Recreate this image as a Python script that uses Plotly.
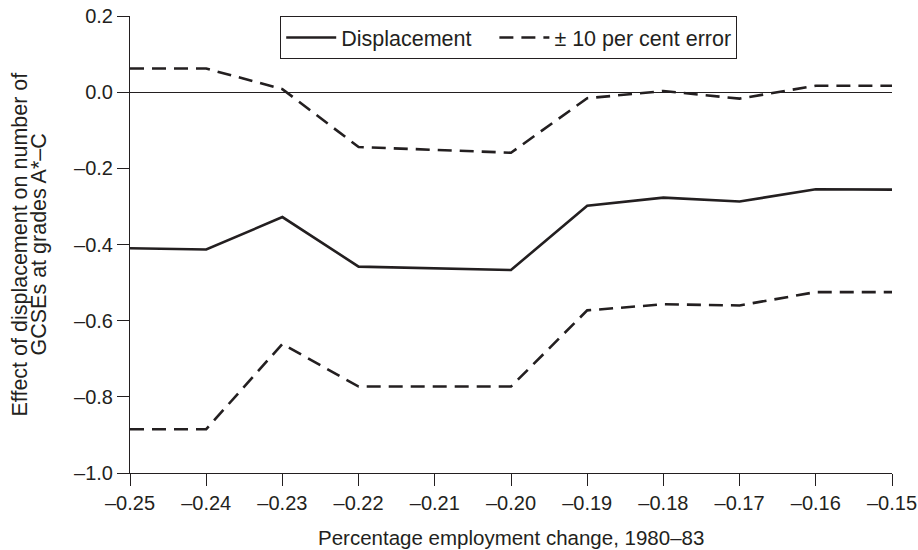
import plotly.graph_objects as go

x_vals = [-0.25, -0.24, -0.23, -0.22, -0.20, -0.19, -0.18, -0.17, -0.16, -0.15]
displacement = [-0.410, -0.413, -0.328, -0.458, -0.467, -0.298, -0.277, -0.287, -0.255, -0.256]
upper_err = [0.062, 0.062, 0.008, -0.144, -0.159, -0.016, 0.003, -0.017, 0.017, 0.017]
lower_err = [-0.885, -0.885, -0.661, -0.773, -0.773, -0.573, -0.557, -0.560, -0.525, -0.525]

x_ticks = [-0.25, -0.24, -0.23, -0.22, -0.21, -0.20, -0.19, -0.18, -0.17, -0.16, -0.15]
x_ticklabels = ["\u20130.25", "\u20130.24", "\u20130.23", "\u20130.22", "\u20130.21", "\u20130.20",
                "\u20130.19", "\u20130.18", "\u20130.17", "\u20130.16", "\u20130.15"]
y_ticks = [0.2, 0.0, -0.2, -0.4, -0.6, -0.8, -1.0]
y_ticklabels = ["0.2", "0.0", "\u20130.2", "\u20130.4", "\u20130.6", "\u20130.8", "\u20131.0"]

x_title = "Percentage employment change, 1980\u201383"
y_title_lines = ["Effect of displacement on number of", "GCSEs at grades A*\u2013C"]
legend_names = ["Displacement\u00a0\u00a0\u00a0", "\u00b1 10 per cent error"]

ink = "#231f20"
fig = go.Figure()
fig.add_trace(go.Scatter(x=x_vals, y=displacement, mode="lines", name=legend_names[0],
                         line=dict(color=ink, width=2.6)))
fig.add_trace(go.Scatter(x=x_vals, y=upper_err, mode="lines", name=legend_names[1],
                         line=dict(color=ink, width=2.6, dash="14px,8px")))
fig.add_trace(go.Scatter(x=x_vals, y=lower_err, mode="lines", showlegend=False,
                         line=dict(color=ink, width=2.6, dash="14px,8px")))

fig.update_layout(
    width=918, height=550,
    margin=dict(l=130, r=26, t=16, b=77),
    paper_bgcolor="white", plot_bgcolor="white",
    font=dict(family="Liberation Sans, Arial, sans-serif", size=20, color=ink),
    legend=dict(orientation="h", x=0.497, xanchor="center", y=1.0, yanchor="top",
                bordercolor=ink, borderwidth=1, bgcolor="white",
                font=dict(size=21.5), itemwidth=50),
    xaxis=dict(range=[-0.25, -0.15], tickvals=x_ticks, ticktext=x_ticklabels,
               showgrid=False, zeroline=False, showline=True, linecolor=ink, linewidth=1,
               ticks="outside", ticklen=12, tickcolor=ink, automargin=False,
               ticklabeloverflow="allow", tickfont=dict(size=20)),
    yaxis=dict(range=[-1.0, 0.2], tickvals=y_ticks, ticktext=y_ticklabels,
               showgrid=False, zeroline=True, zerolinecolor=ink, zerolinewidth=1,
               showline=True, linecolor=ink, linewidth=1,
               ticks="outside", ticklen=12, tickcolor=ink, automargin=False,
               ticklabeloverflow="allow", tickfont=dict(size=20)),
)

fig.add_annotation(text=x_title, xref="paper", yref="paper", x=0.5, y=0,
                   xanchor="center", yanchor="middle", yshift=-64, showarrow=False,
                   font=dict(size=20.5))
fig.add_annotation(text=y_title_lines[0], xref="paper", yref="paper", x=0, y=0.5,
                   xanchor="center", yanchor="middle", xshift=-111, textangle=-90,
                   showarrow=False, font=dict(size=21.5))
fig.add_annotation(text=y_title_lines[1], xref="paper", yref="paper", x=0, y=0.5,
                   xanchor="center", yanchor="middle", xshift=-92, textangle=-90,
                   showarrow=False, font=dict(size=21.5))

fig.write_html("out.html", config={"displayModeBar": False},
               post_script="document.body.style.margin='0';document.body.style.overflow='hidden';")
